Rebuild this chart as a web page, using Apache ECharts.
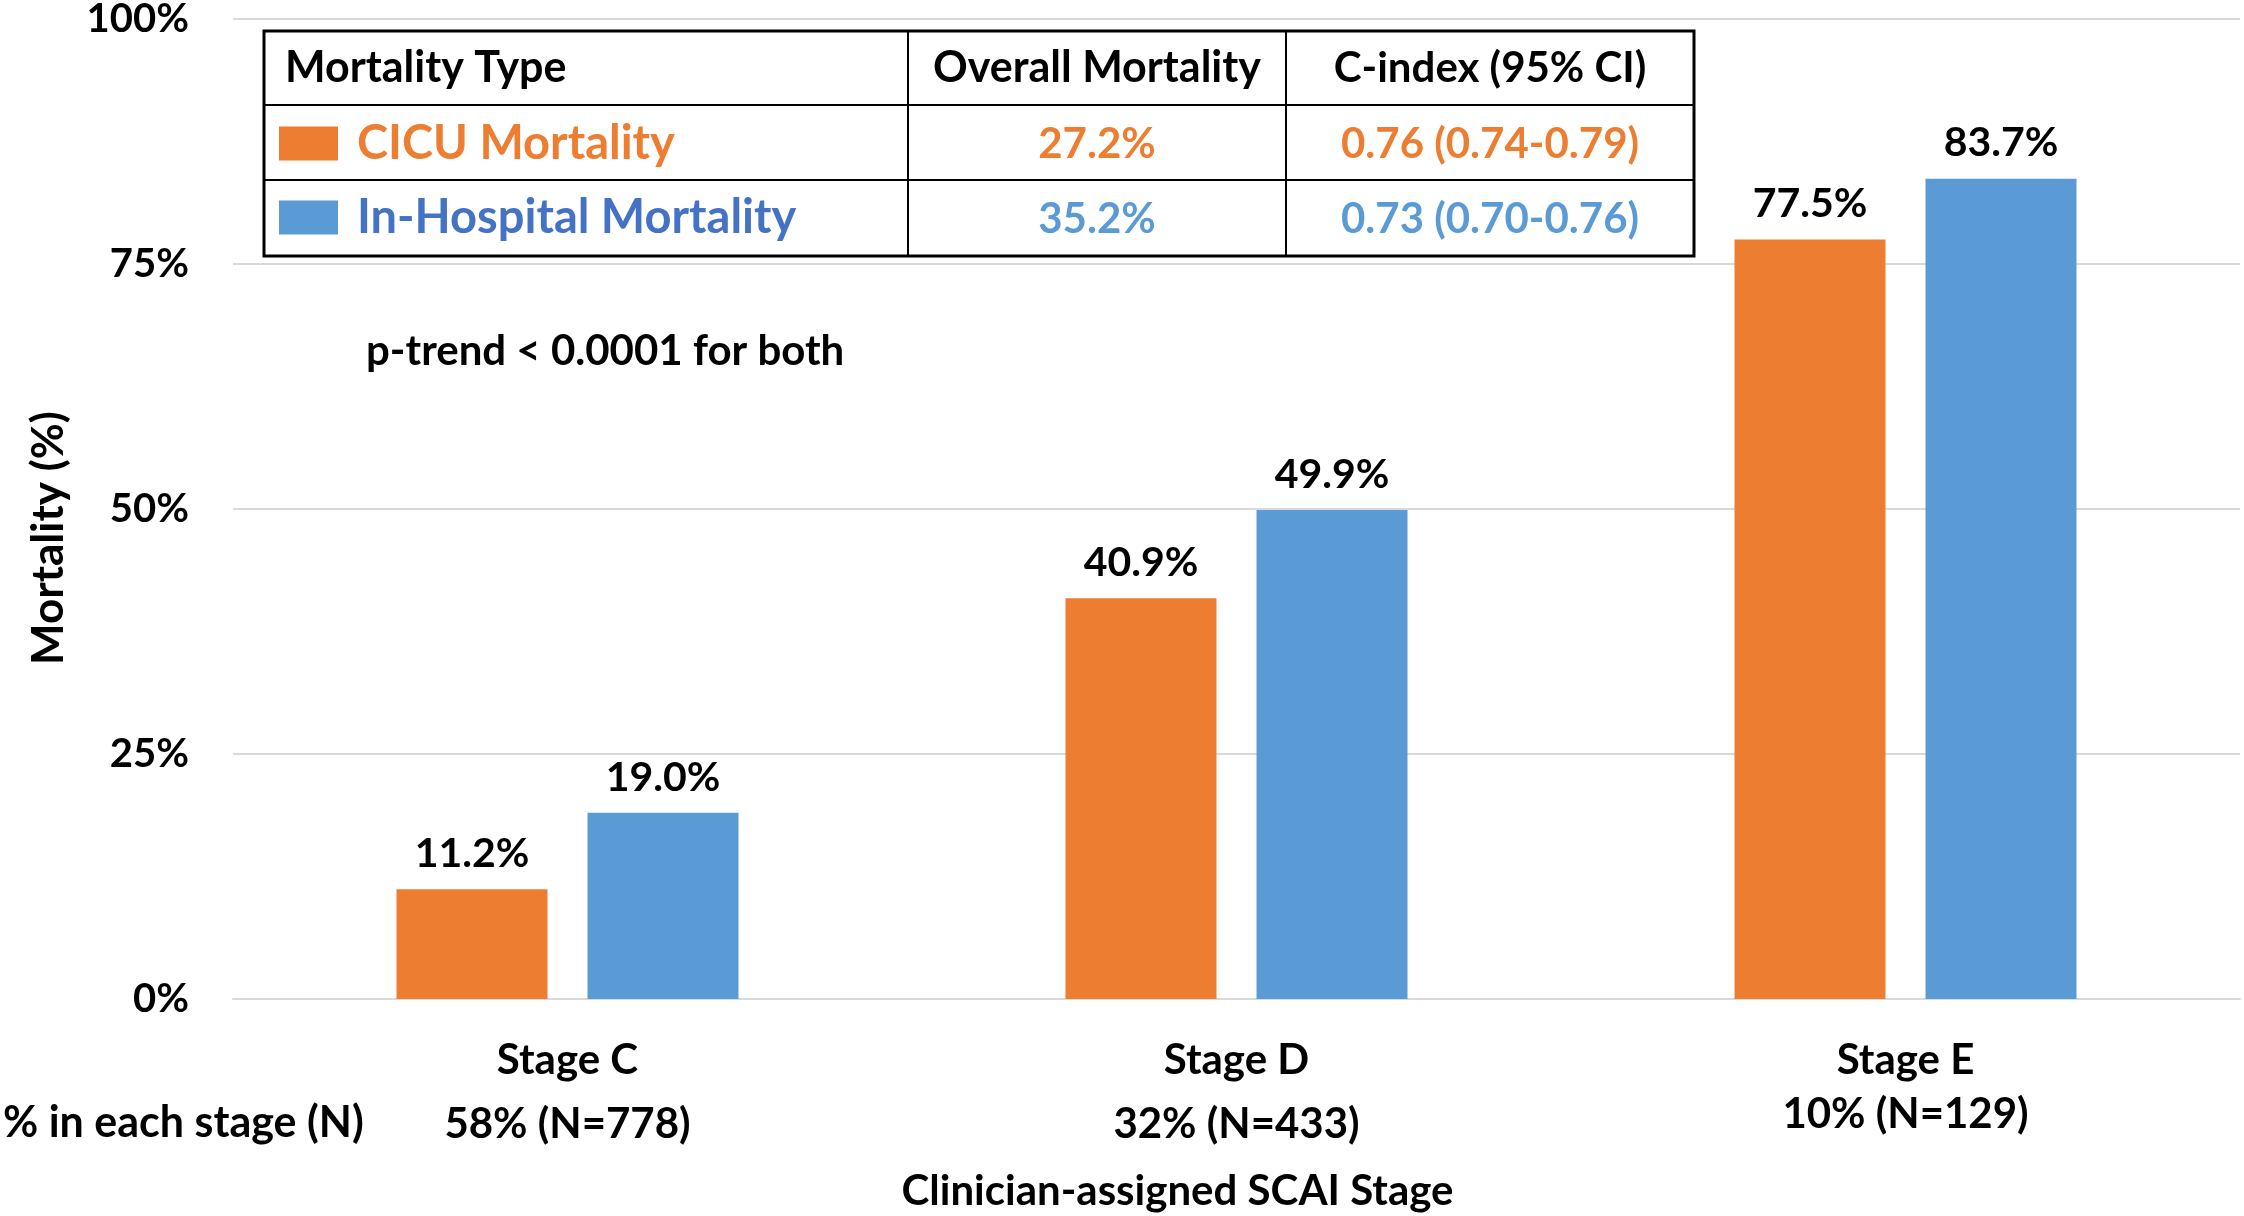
<!DOCTYPE html>
<html>
<head>
<meta charset="utf-8">
<script src="https://cdn.jsdelivr.net/npm/echarts@6/dist/echarts.min.js"></script>
<style>
  html, body { margin: 0; padding: 0; background: #fff; }
  #chart { width: 2244px; height: 1216px; }
</style>
</head>
<body>
<div id="chart"></div>
<script>
const stages = ['Stage C', 'Stage D', 'Stage E']
const stageShare = ['58% (N=778)', '32% (N=433)', '10% (N=129)']
const cicuMortality = [11.2, 40.9, 77.5]
const hospitalMortality = [19.0, 49.9, 83.7]
const seriesNames = ['CICU Mortality', 'In-Hospital Mortality']
const tableHeader = ['Mortality Type', 'Overall Mortality', 'C-index (95% CI)']
const overallMortality = ['27.2%', '35.2%']
const cIndex = ['0.76 (0.74-0.79)', '0.73 (0.70-0.76)']

const FONT = 'Lato, "Liberation Sans", sans-serif'
const ORANGE = '#ED7D31'
const BLUE = '#5B9BD5'
const DARK_BLUE = '#4472C4'

const chart = echarts.init(document.getElementById('chart'))

// table around the legend
const tbl = { x: 264, y: 31, w: 1430, h: 225, cols: [908, 1286], rows: [105, 180] }
const rowMid = [68, 144, 219]
const colMid = [0, 1097, 1490]

const line = (x1, y1, x2, y2, w) => ({
  type: 'line',
  shape: { x1, y1, x2, y2 },
  style: { stroke: '#000', lineWidth: w }
})
const cellText = (text, x, y, color, size, align) => ({
  type: 'text',
  x, y,
  style: {
    text, fill: color, font: 'bold ' + size + 'px ' + FONT,
    align: align || 'center', verticalAlign: 'middle'
  }
})

const graphic = [
  {
    type: 'rect',
    shape: { x: tbl.x, y: tbl.y, width: tbl.w, height: tbl.h },
    style: { fill: '#fff', stroke: '#000', lineWidth: 3 },
    z: 5
  },
  line(tbl.cols[0], tbl.y, tbl.cols[0], tbl.y + tbl.h, 2),
  line(tbl.cols[1], tbl.y, tbl.cols[1], tbl.y + tbl.h, 2),
  line(tbl.x, tbl.rows[0], tbl.x + tbl.w, tbl.rows[0], 2),
  line(tbl.x, tbl.rows[1], tbl.x + tbl.w, tbl.rows[1], 2),
  cellText(tableHeader[0], 285, rowMid[0], '#000', 43, 'left'),
  cellText(tableHeader[1], colMid[1], rowMid[0], '#000', 43),
  cellText(tableHeader[2], colMid[2], rowMid[0], '#000', 42),
  cellText(overallMortality[0], colMid[1], rowMid[1], ORANGE, 42),
  cellText(cIndex[0], colMid[2], rowMid[1], ORANGE, 42),
  cellText(overallMortality[1], colMid[1], rowMid[2], BLUE, 42),
  cellText(cIndex[1], colMid[2], rowMid[2], BLUE, 42),
  cellText('p-trend < 0.0001 for both', 366, 351, '#000', 42, 'left'),
  cellText('% in each stage (N)', 3, 1123, '#000', 43, 'left')
]
graphic.forEach(g => { if (g.z == null) g.z = 6 })

const barLabel = {
  show: true,
  position: 'top',
  distance: 15,
  color: '#000',
  fontFamily: FONT,
  fontWeight: 'bold',
  fontSize: 41,
  formatter: p => p.value.toFixed(1) + '%'
}

const option = {
  backgroundColor: '#fff',
  textStyle: { fontFamily: FONT },
  grid: { left: 233, right: 4, top: 19, bottom: 217, containLabel: false, outerBoundsMode: 'none' },
  legend: {
    data: [
      { name: seriesNames[0], textStyle: { color: ORANGE } },
      { name: seriesNames[1], textStyle: { color: DARK_BLUE } }
    ],
    orient: 'vertical',
    left: 279,
    top: 120,
    padding: 0,
    itemWidth: 59,
    itemHeight: 34,
    itemGap: 27,
    icon: 'rect',
    selectedMode: false,
    z: 10,
    textStyle: { fontFamily: FONT, fontWeight: 'bold', fontSize: 47, padding: [0, 0, 0, 14] }
  },
  graphic,
  xAxis: {
    type: 'category',
    data: stages,
    name: 'Clinician-assigned SCAI Stage',
    nameLocation: 'middle',
    nameGap: 171,
    nameTextStyle: { color: '#000', fontWeight: 'bold', fontSize: 42, padding: [0, 118, 0, 0] },
    axisLine: { lineStyle: { color: '#D9D9D9', width: 2 } },
    axisTick: { show: false },
    axisLabel: {
      margin: 36,
      interval: 0,
      formatter: (v, i) => '{a|' + v + '}\n{' + (i === 2 ? 'c' : 'b') + '|' + stageShare[i] + '}',
      rich: {
        a: { color: '#000', fontWeight: 'bold', fontSize: 42, lineHeight: 50, fontFamily: FONT },
        b: { color: '#000', fontWeight: 'bold', fontSize: 42, lineHeight: 78, fontFamily: FONT },
        c: { color: '#000', fontWeight: 'bold', fontSize: 42, lineHeight: 58, fontFamily: FONT }
      }
    }
  },
  yAxis: {
    type: 'value',
    min: 0,
    max: 100,
    interval: 25,
    name: 'Mortality (%)',
    nameLocation: 'middle',
    nameGap: 162,
    nameTextStyle: { color: '#000', fontWeight: 'bold', fontSize: 44, padding: [0, 58, 0, 0] },
    axisLine: { show: false },
    axisTick: { show: false },
    splitLine: { lineStyle: { color: '#D9D9D9', width: 2 } },
    axisLabel: {
      margin: 44,
      color: '#000',
      fontWeight: 'bold',
      fontSize: 40,
      formatter: '{value}%'
    }
  },
  series: [
    {
      name: seriesNames[0],
      type: 'bar',
      data: cicuMortality,
      barWidth: 151,
      barGap: '26.5%',
      itemStyle: { color: ORANGE },
      label: barLabel
    },
    {
      name: seriesNames[1],
      type: 'bar',
      data: hospitalMortality,
      barWidth: 151,
      barGap: '26.5%',
      itemStyle: { color: BLUE },
      label: barLabel
    }
  ]
}

chart.setOption(option)
</script>
</body>
</html>
